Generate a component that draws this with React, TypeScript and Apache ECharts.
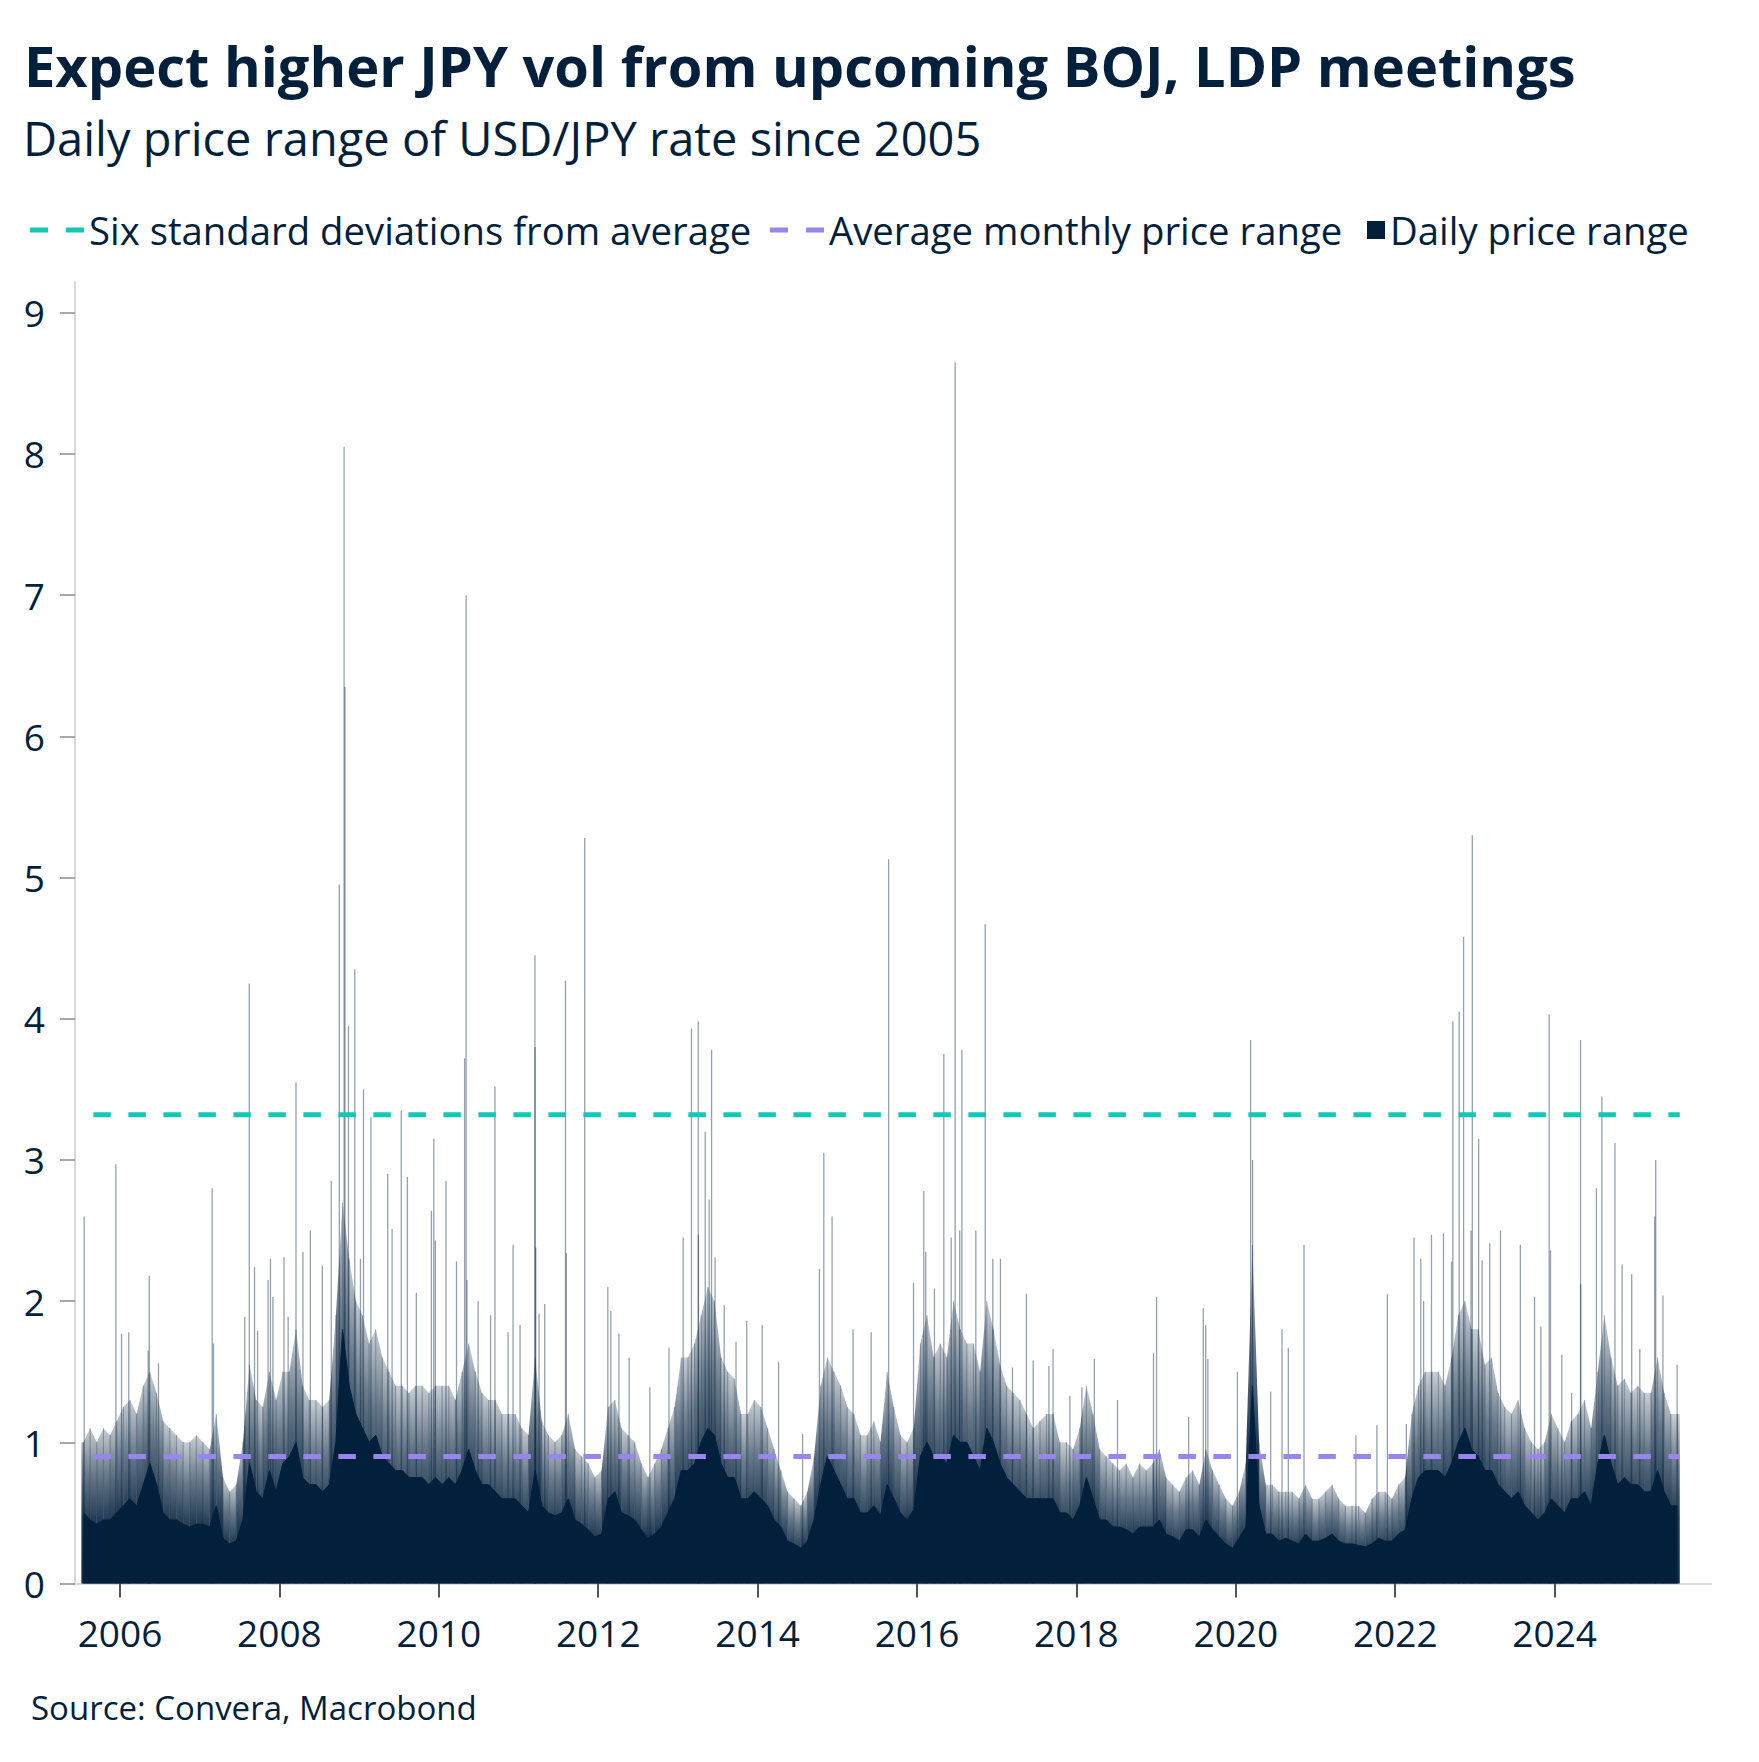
import * as echarts from 'echarts';
import React, { useEffect, useRef } from 'react';

const NAVY = '#021f3b';
const TEAL = '#14c7b6';
const PURPLE = '#9886ee';
const FONT = '"Open Sans", "Noto Sans", sans-serif';

const SIX_NAME = 'Six standard deviations from average';
const AVG_NAME = 'Average monthly price range';
const DAILY_NAME = 'Daily price range';

const yearTicks = [2006, 2008, 2010, 2012, 2014, 2016, 2018, 2020, 2022, 2024];
const valueTicks = [0, 1, 2, 3, 4, 5, 6, 7, 8, 9];

const sixSigma = 3.32;
const avgRange = 0.9;

// monthly level of the solid part of the daily ranges, Jul 2005 .. Jul 2025
const bodyLevel = [
  0.5, 0.45, 0.42, 0.45, 0.45, 0.5, // 2005 H2
  0.55, 0.6, 0.55, 0.7, 0.85, 0.7, 0.5, 0.45, 0.45, 0.42, 0.4, 0.42, // 2006
  0.42, 0.4, 0.55, 0.32, 0.28, 0.3, 0.45, 0.85, 0.65, 0.6, 0.8, 0.65, // 2007
  0.85, 0.9, 1.0, 0.75, 0.7, 0.7, 0.65, 0.7, 1.0, 1.8, 1.4, 1.2, // 2008
  1.1, 1.0, 1.05, 0.9, 0.85, 0.8, 0.8, 0.75, 0.75, 0.75, 0.7, 0.75, // 2009
  0.7, 0.75, 0.7, 0.8, 0.95, 0.8, 0.7, 0.7, 0.65, 0.6, 0.6, 0.6, // 2010
  0.55, 0.5, 0.8, 0.55, 0.5, 0.48, 0.5, 0.6, 0.45, 0.42, 0.38, 0.33, // 2011
  0.35, 0.6, 0.65, 0.5, 0.48, 0.45, 0.38, 0.32, 0.35, 0.4, 0.5, 0.6, // 2012
  0.8, 0.8, 0.85, 1.0, 1.1, 1.05, 0.85, 0.75, 0.75, 0.6, 0.6, 0.65, // 2013
  0.6, 0.55, 0.45, 0.4, 0.3, 0.28, 0.25, 0.3, 0.45, 0.7, 0.9, 0.8, // 2014
  0.7, 0.6, 0.6, 0.5, 0.5, 0.55, 0.48, 0.7, 0.6, 0.5, 0.45, 0.52, // 2015
  0.9, 1.0, 0.9, 0.9, 0.85, 1.05, 1.0, 1.0, 0.9, 0.8, 1.1, 1.0, // 2016
  0.85, 0.75, 0.7, 0.65, 0.6, 0.6, 0.6, 0.6, 0.6, 0.5, 0.5, 0.45, // 2017
  0.55, 0.75, 0.6, 0.45, 0.45, 0.4, 0.4, 0.38, 0.35, 0.4, 0.4, 0.4, // 2018
  0.45, 0.35, 0.33, 0.3, 0.38, 0.38, 0.33, 0.45, 0.38, 0.33, 0.28, 0.25, // 2019
  0.32, 0.4, 1.4, 0.55, 0.35, 0.35, 0.3, 0.32, 0.3, 0.28, 0.35, 0.3, // 2020
  0.3, 0.32, 0.35, 0.3, 0.28, 0.28, 0.27, 0.26, 0.28, 0.32, 0.3, 0.3, // 2021
  0.35, 0.38, 0.6, 0.75, 0.8, 0.8, 0.8, 0.75, 0.85, 1.0, 1.1, 0.95, // 2022
  0.9, 0.8, 0.8, 0.7, 0.65, 0.6, 0.65, 0.55, 0.5, 0.45, 0.5, 0.6, // 2023
  0.55, 0.5, 0.6, 0.6, 0.65, 0.55, 0.85, 1.05, 0.85, 0.7, 0.75, 0.7, // 2024
  0.7, 0.65, 0.65, 0.8, 0.65, 0.55, 0.55, // 2025
];

// monthly upper edge of the ordinary (non-spike) daily ranges
const fuzzLevel = [
  1.0, 1.1, 1.0, 1.1, 1.05, 1.15, // 2005 H2
  1.25, 1.3, 1.2, 1.4, 1.5, 1.35, 1.15, 1.1, 1.05, 1.0, 1.0, 1.05, // 2006
  1.0, 0.95, 1.2, 0.75, 0.65, 0.7, 1.0, 1.55, 1.3, 1.25, 1.5, 1.3, // 2007
  1.5, 1.5, 1.8, 1.4, 1.3, 1.3, 1.25, 1.3, 1.9, 2.7, 2.3, 2.0, // 2008
  1.9, 1.7, 1.8, 1.6, 1.5, 1.4, 1.4, 1.35, 1.4, 1.4, 1.35, 1.4, // 2009
  1.4, 1.4, 1.3, 1.5, 1.7, 1.5, 1.35, 1.3, 1.3, 1.2, 1.2, 1.2, // 2010
  1.1, 1.05, 1.6, 1.15, 1.05, 1.0, 1.05, 1.2, 0.95, 0.9, 0.85, 0.75, // 2011
  0.8, 1.25, 1.3, 1.1, 1.05, 1.0, 0.85, 0.75, 0.85, 0.95, 1.1, 1.25, // 2012
  1.6, 1.6, 1.7, 1.9, 2.1, 2.0, 1.6, 1.5, 1.45, 1.2, 1.2, 1.3, // 2013
  1.25, 1.1, 0.95, 0.8, 0.65, 0.6, 0.55, 0.65, 0.9, 1.4, 1.6, 1.5, // 2014
  1.4, 1.25, 1.2, 1.05, 1.05, 1.15, 1.0, 1.5, 1.25, 1.05, 1.0, 1.1, // 2015
  1.7, 1.9, 1.6, 1.7, 1.6, 2.0, 1.8, 1.7, 1.7, 1.5, 2.0, 1.8, // 2016
  1.55, 1.4, 1.35, 1.3, 1.2, 1.1, 1.15, 1.2, 1.2, 1.0, 1.0, 0.95, // 2017
  1.1, 1.4, 1.2, 0.95, 0.9, 0.85, 0.8, 0.85, 0.75, 0.85, 0.8, 0.85, // 2018
  0.95, 0.75, 0.7, 0.65, 0.75, 0.8, 0.7, 0.95, 0.8, 0.7, 0.6, 0.55, // 2019
  0.65, 0.85, 2.4, 1.0, 0.7, 0.7, 0.65, 0.65, 0.65, 0.6, 0.7, 0.6, // 2020
  0.6, 0.65, 0.7, 0.6, 0.55, 0.55, 0.55, 0.5, 0.6, 0.65, 0.65, 0.6, // 2021
  0.7, 0.75, 1.2, 1.4, 1.5, 1.5, 1.5, 1.4, 1.6, 1.9, 2.0, 1.8, // 2022
  1.8, 1.55, 1.6, 1.35, 1.25, 1.2, 1.3, 1.1, 1.0, 0.95, 1.0, 1.2, // 2023
  1.1, 1.0, 1.15, 1.2, 1.3, 1.1, 1.5, 1.9, 1.6, 1.4, 1.45, 1.35, // 2024
  1.4, 1.35, 1.35, 1.6, 1.35, 1.2, 1.2, // 2025
];

// single days with an unusually wide range
const spikeDates = [
  '2005-07-21', '2005-12-13', '2006-01-08', '2006-02-10', '2006-05-10', '2006-05-15',
  '2006-06-26', '2007-02-27', '2007-03-05', '2007-07-26', '2007-08-16', '2007-09-09',
  '2007-09-23', '2007-11-10', '2007-11-21', '2007-12-02', '2008-01-22', '2008-02-10',
  '2008-03-17', '2008-04-18', '2008-05-22', '2008-07-16', '2008-08-26', '2008-10-02',
  '2008-10-24', '2008-10-28', '2008-11-13', '2008-12-12', '2009-01-07', '2009-01-21',
  '2009-02-24', '2009-05-12', '2009-06-01', '2009-07-13', '2009-08-10', '2009-09-20',
  '2009-11-28', '2009-12-09', '2009-12-16', '2010-02-03', '2010-03-23', '2010-04-29',
  '2010-05-06', '2010-05-10', '2010-06-30', '2010-08-26', '2010-09-15', '2010-11-14',
  '2010-12-07', '2011-01-08', '2011-03-17', '2011-03-18', '2011-03-21', '2011-04-05',
  '2011-05-01', '2011-08-04', '2011-08-08', '2011-10-31', '2012-02-14', '2012-02-28',
  '2012-04-05', '2012-05-22', '2012-08-25', '2012-11-21', '2013-01-25', '2013-03-04',
  '2013-04-04', '2013-04-05', '2013-05-06', '2013-05-24', '2013-06-04', '2013-06-20',
  '2013-08-01', '2013-09-24', '2013-11-12', '2014-01-22', '2014-04-07', '2014-07-26',
  '2014-10-11', '2014-10-31', '2014-12-08', '2015-03-14', '2015-06-05', '2015-08-24',
  '2015-12-16', '2016-02-01', '2016-02-10', '2016-03-21', '2016-05-03', '2016-06-06',
  '2016-06-24', '2016-07-15', '2016-07-25', '2016-09-27', '2016-11-09', '2016-12-14',
  '2017-01-18', '2017-03-14', '2017-05-17', '2017-06-17', '2017-08-28', '2017-09-16',
  '2017-12-02', '2018-01-26', '2018-03-24', '2018-07-08', '2018-12-20', '2019-01-03',
  '2019-05-30', '2019-08-05', '2019-08-16', '2019-08-26', '2020-01-08', '2020-03-09',
  '2020-03-18', '2020-06-09', '2020-07-31', '2020-08-29', '2020-11-09', '2021-07-05',
  '2021-10-09', '2021-11-26', '2022-02-21', '2022-03-28', '2022-04-28', '2022-05-11',
  '2022-06-16', '2022-08-10', '2022-09-16', '2022-09-22', '2022-10-21', '2022-11-10',
  '2022-12-14', '2022-12-20', '2023-01-18', '2023-02-03', '2023-03-10', '2023-04-28',
  '2023-07-28', '2023-10-01', '2023-10-30', '2023-12-07', '2023-12-13', '2024-02-03',
  '2024-03-19', '2024-04-29', '2024-04-30', '2024-07-11', '2024-08-05', '2024-10-04',
  '2024-11-06', '2024-12-20', '2025-01-26', '2025-04-04', '2025-04-09', '2025-05-12',
  '2025-07-16',
];
const spikeValues = [
  2.6, 2.97, 1.77, 1.78, 1.65, 2.18,
  1.56, 2.8, 1.7, 1.89, 4.25, 2.24,
  1.79, 2.15, 2.3, 2.03, 2.31, 1.89,
  3.55, 2.35, 2.5, 2.25, 2.85, 4.95,
  8.05, 6.35, 3.95, 4.35, 2.3, 3.5,
  3.3, 2.9, 2.51, 3.35, 2.88, 2.06,
  2.64, 3.15, 2.43, 2.85, 2.28, 3.72,
  7.0, 2.15, 2.0, 1.9, 3.52, 1.78,
  2.4, 1.83, 4.45, 3.8, 2.38, 1.91,
  1.98, 4.27, 2.34, 5.28, 2.1, 1.93,
  1.77, 1.6, 1.39, 1.67, 2.45, 3.93,
  3.98, 2.47, 3.2, 2.72, 3.78, 2.31,
  1.97, 1.71, 1.86, 1.83, 1.57, 1.06,
  2.23, 3.05, 2.6, 1.8, 1.78, 5.13,
  2.13, 2.78, 2.35, 2.09, 3.75, 2.45,
  8.65, 2.5, 3.78, 2.5, 4.67, 2.3,
  2.3, 1.53, 2.05, 1.58, 1.54, 1.66,
  1.33, 1.39, 1.59, 1.3, 1.63, 2.03,
  1.18, 1.95, 1.83, 1.59, 1.5, 3.85,
  3.0, 1.36, 1.8, 1.67, 2.4, 1.05,
  1.12, 2.05, 1.13, 2.45, 2.3, 2.0,
  2.47, 2.48, 2.28, 3.98, 4.05, 4.58,
  2.5, 5.3, 3.15, 2.29, 2.41, 2.5,
  2.4, 2.03, 1.82, 4.03, 2.36, 1.62,
  1.35, 3.85, 2.12, 2.8, 3.45, 3.12,
  2.26, 2.19, 1.66, 2.6, 3.0, 2.04,
  1.55,
];

const seriesStart = '2005-07-08';
const seriesEnd = '2025-07-28';

const toYear = (s: string) => {
  const [y, m, d] = s.split('-').map(Number);
  const start = Date.UTC(y, 0, 1);
  return y + (Date.UTC(y, m - 1, d) - start) / (Date.UTC(y + 1, 0, 1) - start);
};
const monthX = (i: number) => 2005 + (6 + i + 0.5) / 12;

const App: React.FC = () => {
  const chartRef = useRef<HTMLDivElement>(null);

  useEffect(() => {
    document.body.style.margin = '0';
    document.body.style.overflow = 'hidden';
    let chart: echarts.ECharts | undefined;
    if (chartRef.current) {
      chart = echarts.init(chartRef.current, undefined, { renderer: 'svg' });

      const bodyData = bodyLevel.map((v, i) => [monthX(i), v]);
      const fuzzData = fuzzLevel.map((v, i) => [monthX(i), v]);
      const spikeData = spikeDates.map((d, i) => [toYear(d), spikeValues[i]]);
      const x0 = toYear(seriesStart);
      const x1 = toYear(seriesEnd);

      const fuzzFill = () =>
        new echarts.graphic.LinearGradient(0, 0, 0, 1, [
          { offset: 0, color: 'rgba(2,31,59,0.22)' },
          { offset: 0.3, color: 'rgba(2,31,59,0.6)' },
          { offset: 0.6, color: 'rgba(2,31,59,0.88)' },
          { offset: 1, color: 'rgba(2,31,59,0.95)' },
        ]);

      const dashIcon = 'path://M0 0H18V5H0Z M36 0H54V5H36Z';
      const legendText = {
        fontSize: 38.3,
        fontFamily: FONT,
        color: NAVY,
        lineHeight: 50,
      };

      const option: echarts.EChartsOption = {
        animation: false,
        backgroundColor: '#ffffff',
        textStyle: { fontFamily: FONT },
        graphic: [
          {
            type: 'text',
            x: 24,
            y: 65,
            style: {
              text: 'Expect higher JPY vol from upcoming BOJ, LDP meetings',
              font: `bold 56px ${FONT}`,
              fill: NAVY,
              verticalAlign: 'middle',
            },
          },
          {
            type: 'text',
            x: 23,
            y: 138,
            style: {
              text: 'Daily price range of USD/JPY rate since 2005',
              font: `47px ${FONT}`,
              fill: NAVY,
              verticalAlign: 'middle',
            },
          },
          {
            type: 'text',
            x: 31,
            y: 1707,
            style: {
              text: 'Source: Convera, Macrobond',
              font: `33px ${FONT}`,
              fill: NAVY,
              verticalAlign: 'middle',
            },
          },
        ],
        legend: [
          {
            data: [{ name: SIX_NAME, icon: dashIcon }],
            left: 25,
            top: 200,
            itemWidth: 54,
            itemHeight: 5,
            selectedMode: false,
            itemStyle: { borderWidth: 0 },
            textStyle: legendText,
          },
          {
            data: [{ name: AVG_NAME, icon: dashIcon }],
            left: 765,
            top: 200,
            itemWidth: 54,
            itemHeight: 5,
            selectedMode: false,
            itemStyle: { borderWidth: 0 },
            textStyle: legendText,
          },
          {
            data: [{ name: DAILY_NAME, icon: 'rect' }],
            left: 1362,
            top: 200,
            itemWidth: 18,
            itemHeight: 18,
            selectedMode: false,
            itemStyle: { borderWidth: 0 },
            textStyle: legendText,
          },
        ],
        grid: { left: 75, right: 48, top: 281.7, bottom: 178.5 },
        xAxis: {
          type: 'value',
          min: 2005.435,
          max: 2025.962,
          axisLine: { show: true, onZero: false, lineStyle: { color: '#d9d9d9', width: 2 } },
          axisTick: {
            show: true,
            // @ts-expect-error customValues is newer than some typings
            customValues: yearTicks,
            length: 14,
            lineStyle: { color: '#555555', width: 2 },
          },
          axisLabel: {
            // @ts-expect-error customValues is newer than some typings
            customValues: yearTicks,
            formatter: (v: number) => String(Math.round(v)),
            margin: 27,
            fontSize: 37,
            lineHeight: 44,
            fontFamily: FONT,
            color: NAVY,
          },
          splitLine: { show: false },
        },
        yAxis: {
          type: 'value',
          min: 0,
          max: 9.22,
          axisLine: { show: true, onZero: false, lineStyle: { color: '#d9d9d9', width: 2 } },
          axisTick: {
            show: true,
            // @ts-expect-error customValues is newer than some typings
            customValues: valueTicks,
            length: 15,
            lineStyle: { color: '#8c8c8c', width: 1.5 },
          },
          axisLabel: {
            // @ts-expect-error customValues is newer than some typings
            customValues: valueTicks,
            margin: 30,
            fontSize: 37,
            fontFamily: FONT,
            color: NAVY,
          },
          splitLine: { show: false },
        },
        series: [
          {
            name: 'fuzz',
            type: 'custom',
            silent: true,
            z: 1,
            encode: { x: 0, y: 1 },
            data: fuzzData,
            renderItem: (params: any, api: any) => {
              const i = params.dataIndex;
              const last = i + 1 >= fuzzData.length;
              const next = fuzzData[last ? i : i + 1];
              const a = api.coord([fuzzData[i][0], fuzzData[i][1]]);
              const b = api.coord([last ? x1 : next[0], next[1]]);
              const base = api.coord([fuzzData[i][0], 0])[1];
              const startX = i === 0 ? api.coord([x0, 0])[0] : a[0];
              return {
                type: 'group',
                children: [
                  {
                    type: 'polygon',
                    shape: {
                      points: [
                        [startX, base],
                        [startX, a[1]],
                        [a[0], a[1]],
                        [b[0], b[1]],
                        [b[0], base],
                      ],
                    },
                    style: { fill: fuzzFill() },
                  },
                  {
                    type: 'line',
                    shape: { x1: a[0], y1: a[1], x2: a[0], y2: base },
                    style: { stroke: 'rgba(2,31,59,0.3)', lineWidth: 1.1 },
                  },
                ],
              };
            },
          },
          {
            name: 'spikes',
            type: 'custom',
            silent: true,
            z: 2,
            encode: { x: 0, y: 1 },
            data: spikeData,
            renderItem: (_params: unknown, api: any) => {
              const top = api.coord([api.value(0), api.value(1)]);
              const bot = api.coord([api.value(0), 0]);
              return {
                type: 'line',
                shape: { x1: top[0], y1: top[1], x2: bot[0], y2: bot[1] },
                style: { stroke: 'rgba(2,31,59,0.42)', lineWidth: 1.3 },
              };
            },
          },
          {
            name: DAILY_NAME,
            type: 'line',
            z: 3,
            color: NAVY,
            symbol: 'none',
            silent: true,
            data: bodyData,
            lineStyle: { width: 1, color: NAVY },
            areaStyle: { color: NAVY, opacity: 1 },
          },
          {
            name: SIX_NAME,
            type: 'line',
            z: 5,
            color: TEAL,
            symbol: 'none',
            silent: true,
            data: [
              [x0, sixSigma],
              [x1, sixSigma],
            ],
            lineStyle: { color: TEAL, width: 5, type: [17.5, 17.5], dashOffset: 23 },
          },
          {
            name: AVG_NAME,
            type: 'line',
            z: 5,
            color: PURPLE,
            symbol: 'none',
            silent: true,
            data: [
              [x0, avgRange],
              [x1, avgRange],
            ],
            lineStyle: { color: PURPLE, width: 5, type: [17.5, 17.5], dashOffset: 23 },
          },
        ],
      };

      chart.setOption(option);
    }

    return () => {
      chart?.dispose();
    };
  }, []);

  return <div ref={chartRef} style={{ width: '1759px', height: '1762px' }} />;
};

export default App;
